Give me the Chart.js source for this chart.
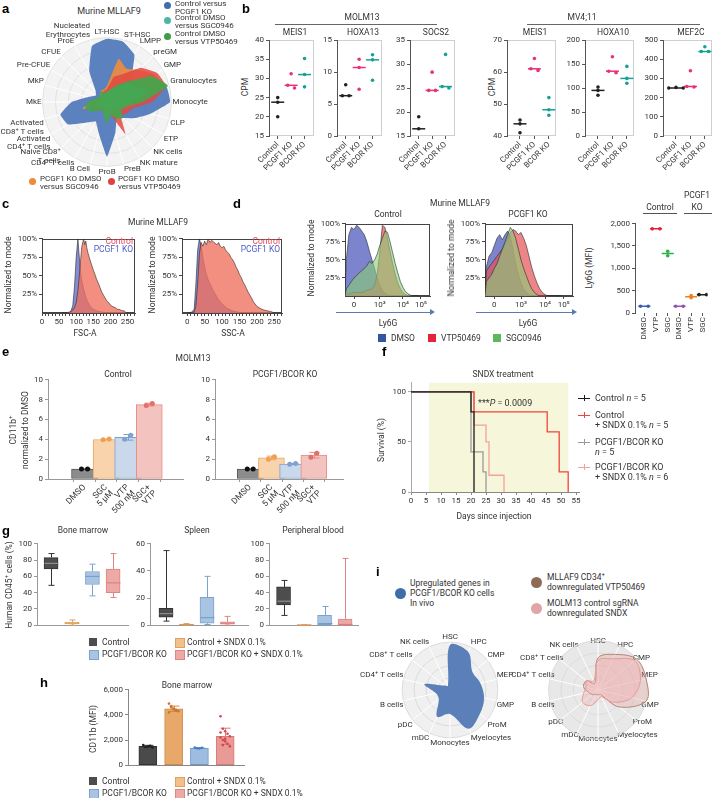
<!DOCTYPE html>
<html>
<head>
<meta charset="utf-8">
<title>Figure</title>
<script src="https://cdn.jsdelivr.net/npm/chart.js@4.4.1/dist/chart.umd.min.js"></script>
<style>
  body { margin: 0; width: 723px; height: 798px; position: relative; overflow: hidden; background: #fff; font-family: Roboto, "DejaVu Sans", sans-serif; color: #333; }
  canvas { position: absolute; }
  .t { position: absolute; font-size: 8.5px; line-height: 10px; white-space: nowrap; }
  .p { position: absolute; font: bold 13px "Liberation Sans", Arial, sans-serif; color: #000; }
  .b { position: absolute; }
  sup { font-size: 6px; line-height: 0; }
</style>
</head>
<body>
<script>
// ---------- data ----------
// a: radar, 24 cell types
const aCats = ['LT-HSC', 'ST-HSC', 'LMPP', 'preGM', 'GMP', 'Granulocytes', 'Monocyte', 'CLP', 'ETP', 'NK cells', 'NK mature', 'PreB', 'ProB', 'B Cell', 'CD4⁺ T cells', ['Naive CD8⁺', 'T cells'], ['Activated', 'CD4⁺ T cells'], ['Activated', 'CD8⁺ T cells'], 'MkE', 'MkP', 'Pre-CFUE', 'CFUE', 'ProE', ['Nucleated', 'Erythrocytes']];
const aBlue = [0.98, 0.97, 0.85, 0.55, 0.55, 0.95, 0.98, 0.7, 0.5, 0.35, 0.3, 0.5, 0.85, 0.5, 0.35, 0.45, 0.7, 0.75, 0.55, 0.3, 0.2, 0.25, 0.55, 0.9];
const aOrange = [0.25, 0.7, 0.6, 0.7, 0.85, 0.92, 0.55, 0.35, 0.25, 0.2, 0.15, 0.15, 0.25, 0.15, 0.12, 0.15, 0.2, 0.4, 0.25, 0.15, 0.12, 0.15, 0.2, 0.2];
const aRed = [0.2, 0.4, 0.5, 0.75, 0.9, 0.95, 0.7, 0.4, 0.35, 0.3, 0.58, 0.2, 0.2, 0.15, 0.15, 0.2, 0.25, 0.3, 0.2, 0.15, 0.12, 0.12, 0.15, 0.18];
const aTeal = [0.15, 0.2, 0.25, 0.4, 0.5, 0.7, 0.4, 0.25, 0.2, 0.15, 0.15, 0.12, 0.2, 0.12, 0.1, 0.12, 0.15, 0.2, 0.15, 0.1, 0.1, 0.1, 0.12, 0.12];
const aGreen = [0.15, 0.2, 0.3, 0.45, 0.8, 0.98, 0.55, 0.3, 0.25, 0.35, 0.3, 0.2, 0.35, 0.2, 0.15, 0.2, 0.3, 0.35, 0.3, 0.2, 0.15, 0.15, 0.2, 0.15];

// b: CPM, groups Control / PCGF1 KO / BCOR KO
const bGroups = ['Control', 'PCGF1 KO', 'BCOR KO'];
const molmMeis1 = [[25, 23.8, 20], [31.2, 28.2, 27.5], [35.2, 31, 27.8]];
const molmHoxa13 = [[8, 6.3, 6.3], [12, 10.7, 7.3], [12.7, 11.9, 8.7]];
const molmSocs2 = [[19, 16.5, 13.5], [28.3, 24.5, 24.5], [32, 25.3, 25]];
const mvMeis1 = [[45, 43.8, 41], [64.2, 61, 60.5], [52, 48.2, 46.5]];
const mvHoxa10 = [[102, 95, 85], [165, 135, 132], [145, 120, 110]];
const mvMef2c = [[250, 253, 250], [340, 258, 255], [465, 440, 440]];

// c: flow histograms (% of mode)
const fscX = [60, 70, 80, 85, 90, 95, 100, 105, 110, 113, 116, 119, 122, 125, 128, 131, 135, 140, 145, 150, 155, 160, 165, 170, 175, 180, 185, 190, 195, 200, 205, 210, 215, 220, 225, 230, 235, 240, 245, 250];
const fscControl = [0, 0.5, 1, 2, 4, 7, 14, 30, 55, 72, 88, 95, 100, 92, 97, 88, 80, 72, 65, 58, 52, 45, 40, 34, 28, 24, 20, 16, 14, 11, 9, 8, 7, 5, 5, 4, 3, 3, 1, 0];
const fscKO = [0, 0, 1, 3, 10, 35, 75, 100, 70, 55, 45, 38, 32, 27, 22, 18, 14, 10, 7, 5, 4, 3, 2, 2, 1, 1, 0, 0, 0, 0, 0, 0, 0, 0, 0, 0, 0, 0, 0, 0];
const sscX = [0, 10, 20, 25, 30, 35, 40, 45, 50, 55, 60, 65, 70, 75, 80, 85, 90, 95, 100, 105, 110, 115, 120, 125, 130, 135, 140, 145, 150, 155, 160, 165, 170, 175, 180, 185, 190, 195, 200, 210, 220, 230, 240, 250];
const sscControl = [0, 0, 1, 10, 40, 80, 95, 90, 97, 92, 100, 95, 98, 96, 94, 92, 95, 90, 88, 90, 85, 82, 80, 75, 72, 68, 62, 58, 52, 48, 42, 38, 33, 28, 24, 20, 15, 12, 9, 6, 4, 3, 2, 0];
const sscKO = [0, 0, 5, 40, 85, 100, 90, 75, 62, 52, 45, 40, 35, 30, 26, 22, 18, 15, 12, 10, 8, 6, 5, 4, 3, 2, 2, 1, 1, 0, 0, 0, 0, 0, 0, 0, 0, 0, 0, 0, 0, 0, 0, 0];

// d: Ly6G histograms (x in display units: 0, 10^3, 10^4, 10^5)
const dX = [-0.35, -0.3, -0.2, -0.1, 0, 0.1, 0.2, 0.3, 0.4, 0.5, 0.6, 0.7, 0.8, 0.9, 1.0, 1.1, 1.2, 1.3, 1.4, 1.5, 1.6, 1.7, 1.8, 1.9, 2.0, 2.1, 2.2, 2.3, 2.4, 2.5];
const dCtrlDmso = [0, 50, 85, 95, 92, 98, 95, 90, 85, 75, 62, 50, 38, 25, 15, 8, 4, 2, 1, 0, 0, 0, 0, 0, 0, 0, 0, 0, 0, 0];
const dCtrlVtp = [0, 2, 3, 4, 5, 5, 5, 5, 6, 8, 9, 10, 15, 30, 60, 98, 95, 80, 62, 45, 30, 18, 10, 5, 2, 0, 0, 0, 0, 0];
const dCtrlSgc = [0, 10, 15, 20, 25, 28, 32, 35, 38, 42, 48, 45, 50, 58, 70, 80, 90, 88, 75, 60, 45, 32, 20, 12, 6, 3, 1, 0, 0, 0];
const dKoDmso = [0, 40, 55, 60, 70, 80, 85, 78, 85, 90, 82, 65, 45, 30, 18, 10, 5, 2, 0, 0, 0, 0, 0, 0, 0, 0, 0, 0, 0, 0];
const dKoVtp = [0, 35, 40, 45, 50, 55, 60, 65, 72, 80, 88, 92, 90, 85, 88, 80, 70, 55, 40, 28, 18, 10, 5, 2, 0, 0, 0, 0, 0, 0];
const dKoSgc = [0, 20, 25, 30, 38, 45, 55, 65, 75, 85, 95, 90, 80, 65, 50, 38, 28, 18, 10, 5, 2, 0, 0, 0, 0, 0, 0, 0, 0, 0];
const dTickPos = [0, 1, 1.9, 2.6];
const dTickLab = ['0', '10³', '10⁴', '10⁵'];
const ly6gCats = ['DMSO', 'VTP', 'SGC', 'DMSO', 'VTP', 'SGC'];
const ly6gVals = [[150, 150], [1880, 1880], [1380, 1280], [150, 150], [390, 340], [410, 410]];

// e: CD11b+ normalized to DMSO
const eCats = [['DMSO'], ['SGC', '5 µM'], ['VTP', '500 nM'], ['SGC+', 'VTP']];
const eCtrl = [[1, 1], [3.95, 4.02], [4.0, 4.4], [7.4, 7.6]];
const eKo = [[1, 1], [2.0, 2.25], [1.48, 1.55], [2.2, 2.6]];

// f: survival (days, %)
const fCtrlDays = [0, 20, 21], fCtrlSurv = [100, 80, 0];
const fCtrlSndxDays = [0, 21, 45.4, 49.4, 52.4], fCtrlSndxSurv = [100, 80, 60, 20, 0];
const fKoDays = [0, 20, 24, 25], fKoSurv = [100, 40, 20, 0];
const fKoSndxDays = [0, 21, 25, 26, 31], fKoSndxSurv = [100, 66.7, 50, 16.7, 0];
const fShade = [6, 52.4];

// g: box stats [min, q1, median, q3, max]
const gBM = [[49, 69, 76, 83, 88], [0, 1.5, 2.5, 3.5, 6.5], [36, 50, 60, 66, 75], [34, 40, 52, 69, 88]];
const gSp = [[3, 6, 8.5, 12.5, 55], [0, 0.2, 0.5, 0.8, 1.2], [0.5, 1.5, 5.5, 20.5, 36], [0, 0.8, 1.5, 2.5, 6.5]];
const gPB = [[12, 25, 29.5, 47, 55], [0, 0, 0.2, 0.4, 0.6], [0, 0.5, 2, 12, 23], [0, 0.3, 1, 7.5, 82]];

// h: CD11b MFI
const hPts = [[1600, 1450, 1500, 1550, 1400], [4900, 4700, 4500, 4400, 4300, 4200, 4600, 4450, 4350], [1400, 1350, 1330, 1380], [3900, 2900, 2700, 2500, 2300, 2200, 2000, 1900, 1700, 1500, 2600, 1600, 2100]];

// i: radars, 14 cell types
const iCats = ['HSC', 'HPC', 'CMP', 'MEP', 'GMP', 'ProM', 'Myelocytes', 'Monocytes', 'mDC', 'pDC', 'B cells', 'CD4⁺ T cells', 'CD8⁺ T cells', 'NK cells'];
const iBlue = [0.94, 0.88, 0.6, 0.65, 0.73, 0.8, 0.9, 0.5, 0.62, 0.3, 0.3, 0.55, 0.15, 0.1];
const iBrown = [0.65, 0.8, 1.0, 1.0, 1.0, 0.55, 0.1, 0.1, 0.1, 0.15, 0.2, 0.3, 0.3, 0.15];
const iPink = [0.6, 0.7, 0.95, 0.88, 0.7, 0.4, 0.15, 0.2, 0.35, 0.4, 0.3, 0.25, 0.3, 0.2];

// ---------- setup ----------
Chart.defaults.font.family = 'Roboto, "DejaVu Sans", sans-serif';
Chart.defaults.font.size = 8;
Chart.defaults.color = '#333';
Chart.defaults.animation = false;
Chart.defaults.responsive = false;
Chart.defaults.maintainAspectRatio = false;
Chart.defaults.devicePixelRatio = 1;
Chart.defaults.events = [];
Chart.defaults.plugins.legend.display = false;
Chart.defaults.plugins.tooltip.enabled = false;

Chart.register({
  id: 'frame',
  beforeDraw(ch, args, o) {
    if (!o.color) return;
    const a = ch.chartArea, c = ch.ctx;
    c.save();
    c.strokeStyle = o.color;
    c.lineWidth = 1;
    c.strokeRect(Math.round(a.left) + 0.5, Math.round(a.top) + 0.5, Math.round(a.right - a.left) - 1, Math.round(a.bottom - a.top) - 1);
    c.restore();
  }
});

function cv(x, y, w, h) {
  const c = document.createElement('canvas');
  c.width = w; c.height = h;
  c.style.left = x + 'px'; c.style.top = y + 'px';
  document.body.appendChild(c);
  return c;
}
function put(cls, x, y, html, css) {
  const d = document.createElement('div');
  d.className = cls;
  d.style.left = x + 'px'; d.style.top = y + 'px';
  if (html) d.innerHTML = html;
  if (css) d.style.cssText += ';' + css;
  document.body.appendChild(d);
  return d;
}
const T = (x, y, s, css) => put('t', x, y, s, css);
const C = (x, y, s, css) => put('t', x, y, s, 'transform:translateX(-50%);text-align:center;' + (css || ''));
const R = (x, y, s, css) => put('t', x, y, s, 'transform:translateX(-100%);text-align:right;' + (css || ''));
const V = (x, y, s, css) => put('t', x, y, s, 'transform:translate(-50%,-50%) rotate(-90deg);text-align:center;' + (css || ''));
const B = (x, y, w, h, css) => put('b', x, y, '', `width:${w}px;height:${h}px;` + (css || ''));
const P = (x, y, s) => put('p', x, y, s);

function mean(a) { return a.reduce((p, q) => p + q, 0) / a.length; }
function sd(a) { const m = mean(a); return Math.sqrt(a.reduce((p, q) => p + (q - m) ** 2, 0) / (a.length - 1)); }
function median(a) { const s = [...a].sort((p, q) => p - q); return s[Math.floor(s.length / 2)]; }
function swarm(vals, g, thr, dx) {
  return vals.map((v, j) => {
    const near = vals.map((w, k) => k).filter(k => Math.abs(vals[k] - v) < thr);
    return {x: g + (near.indexOf(j) - (near.length - 1) / 2) * dx, y: v};
  });
}

function yLin(min, max, step, w, col, fmt) {
  const ax = {type: 'linear', min, max, afterFit: s => { s.width = w; },
    ticks: {stepSize: step, padding: 2, color: '#333'},
    grid: {drawOnChartArea: false, tickLength: 3, color: col || '#555'},
    border: {color: col || '#555'}};
  if (fmt) ax.ticks.callback = fmt;
  return ax;
}
function xLin(min, max, vals, fmt, h, rot, col, border) {
  return {type: 'linear', min, max, afterFit: s => { s.height = h; },
    afterBuildTicks: s => { s.ticks = vals.map(v => ({value: v})); },
    ticks: {callback: fmt, autoSkip: false, minRotation: rot, maxRotation: rot, padding: 1, color: '#333'},
    grid: {drawOnChartArea: false, tickLength: 3, color: col},
    border: {color: col, display: border !== false}};
}
function only(ax, vals) { ax.afterBuildTicks = s => { s.ticks = vals.map(v => ({value: v})); }; return ax; }

// ---------- a ----------
P(2, 1, 'a');
C(109, 6, 'Murine MLLAF9', 'font-size:9px');
new Chart(cv(-2, 19, 222, 160), {
  type: 'radar',
  data: {labels: aCats, datasets: [
    {data: aGreen, backgroundColor: 'rgba(68,166,78,0.93)'},
    {data: aTeal, backgroundColor: 'rgba(80,182,165,0.9)'},
    {data: aRed, backgroundColor: 'rgba(226,72,66,0.85)'},
    {data: aOrange, backgroundColor: 'rgba(242,140,60,0.88)'},
    {data: aBlue, backgroundColor: 'rgba(82,122,186,0.95)'}
  ].map(d => Object.assign(d, {fill: true, borderWidth: 0, pointRadius: 0, tension: 0.1}))},
  options: {layout: {padding: 0}, scales: {r: {min: 0, max: 1,
    ticks: {display: false, stepSize: 0.2}, grid: {circular: true, color: '#e2e2e2'},
    angleLines: {color: '#fff'}, backgroundColor: '#f3f3f3',
    pointLabels: {padding: 1, color: '#333', font: {size: 8, lineHeight: 1.05}}}}}
});
const legA = [[164, 2, '#3f6db0', 'Control versus<br>PCGF1 KO', 0], [164, 17, '#4cb5a4', 'Control DMSO<br>versus SGC0946', 14], [164, 33, '#3c9e48', 'Control DMSO<br>versus VTP50469', 30]];
legA.forEach(([x, y, c, s, ty]) => { B(x, y, 7, 7, `border-radius:50%;background:${c}`); T(x + 11, ty, s, 'font-size:8px;line-height:7.5px'); });
B(29, 178, 7, 7, 'border-radius:50%;background:#f08a35');
T(40, 175, 'PCGF1 KO DMSO<br>versus SGC0946', 'font-size:8px;line-height:7.5px');
B(108, 178, 7, 7, 'border-radius:50%;background:#e0433f');
T(118, 175, 'PCGF1 KO DMSO<br>versus VTP50469', 'font-size:8px;line-height:7.5px');

// ---------- b ----------
P(242, 1, 'b');
const bCols = ['#222', '#e8317b', '#16a096'];
C(362, 12, 'MOLM13');
B(275, 24, 162, 0, 'border-top:1px solid #666');
C(582, 12, 'MV4;11');
B(527, 24, 173, 0, 'border-top:1px solid #666');
V(245, 87, 'CPM');
V(492, 87, 'CPM');
const bPanels = [
  [molmMeis1, 'MEIS1', 269, 52, 15, 40, 5],
  [molmHoxa13, 'HOXA13', 337, 52, 0, 15, 5],
  [molmSocs2, 'SOCS2', 410, 52, 15, 35, 5],
  [mvMeis1, 'MEIS1', 507, 56, 40, 70, 10],
  [mvHoxa10, 'HOXA10', 585, 56, 0, 200, 50],
  [mvMef2c, 'MEF2C', 663, 56, 0, 500, 100]
];
bPanels.forEach(([d, gene, ax, pw, lo, hi, st]) => {
  const unit = pw === 52 ? 15.5 : 16.5;
  const x0 = pw === 52 ? 0.35 : 0.1;
  C(ax + pw / 2, 27, gene);
  const ds = [];
  d.forEach((vals, i) => ds.push({data: swarm(vals, i + 1, (hi - lo) * 0.03, 0.5), backgroundColor: bCols[i], pointRadius: 1.8, borderWidth: 0}));
  d.forEach((vals, i) => ds.push({data: [{x: i + 1, y: median(vals)}], pointStyle: 'line', pointRadius: 6.5, borderColor: bCols[i], borderWidth: 1.5}));
  new Chart(cv(ax - 26, 32, 26 + pw + 1, 138), {
    type: 'scatter',
    data: {datasets: ds},
    options: {
      layout: {padding: {top: 6, right: 1}},
      plugins: {frame: {color: '#cfcfcf'}},
      scales: {
        x: xLin(x0, x0 + pw / unit, [1, 2, 3], v => bGroups[v - 1], 34, 45, '#555', false),
        y: yLin(lo, hi, st, 26)
      }
    }
  });
});

// ---------- c ----------
P(2, 196, 'c');
function hist(x, y, w, h, xs, series, xmin, xmax, xt, xfmt, xh) {
  return new Chart(cv(x, y, w, h), {
    type: 'line',
    data: {datasets: series.map(s => ({data: xs.map((v, i) => ({x: v, y: s[0][i]})), backgroundColor: s[1],
      borderColor: 'rgba(40,40,40,0.85)', borderWidth: 0.7, fill: 'origin', pointRadius: 0, tension: 0}))},
    options: {
      layout: {padding: {top: 6, right: 2}},
      plugins: {frame: {color: '#444'}},
      scales: {
        x: xLin(xmin, xmax, xt, xfmt, xh, 0, '#444'),
        y: only(yLin(0, 100, 25, 32, '#444', v => v + '%'), [25, 50, 75, 100])
      }
    }
  });
}
const cTicks = [];
for (let v = 0; v <= 270; v += 10) cTicks.push(v);
const cFmt = v => (v % 50 ? '' : v);
const cRed = 'rgba(240,112,92,0.78)', cBlue = 'rgba(112,120,205,0.85)';
C(158, 217, 'Murine MLLAF9');
hist(10, 232, 127, 95, fscX, [[fscControl, cRed], [fscKO, cBlue]], 0, 272, cTicks, cFmt, 14);
hist(150, 232, 134, 95, sscX, [[sscControl, cRed], [sscKO, cBlue]], -15, 272, cTicks, cFmt, 14);
V(8, 275, 'Normalized to mode');
V(152, 275, 'Normalized to mode');
C(85, 328, 'FSC-A');
C(233, 328, 'SSC-A');
[133, 280].forEach(x => { R(x, 236, 'Control', 'color:#ec4a55'); R(x, 244, 'PCGF1 KO', 'color:#4e5fc4'); });

// ---------- d ----------
P(233, 196, 'd');
C(460, 198, 'Murine MLLAF9');
const dBlue = 'rgba(95,105,195,0.82)', dRed = 'rgba(228,80,85,0.7)', dGreen = 'rgba(140,205,120,0.62)';
const dFmt = v => dTickLab[dTickPos.indexOf(v)];
hist(313, 217, 119, 95, dX, [[dCtrlSgc, dGreen], [dCtrlVtp, dRed], [dCtrlDmso, dBlue]], -0.35, 2.95, dTickPos, dFmt, 16);
hist(453, 217, 122, 95, dX, [[dKoSgc, dGreen], [dKoVtp, dRed], [dKoDmso, dBlue]], -0.35, 2.95, dTickPos, dFmt, 16);
C(388, 209, 'Control');
C(528, 209, 'PCGF1 KO');
V(311, 258, 'Normalized to mode');
V(451, 258, 'Normalized to mode');
[[336, 94], [476, 96]].forEach(([x, w]) => {
  B(x, 312, w, 0, 'border-top:1px solid #5a7bb0');
  B(x + w, 309, 0, 0, 'border-left:5px solid #5a7bb0;border-top:3.5px solid transparent;border-bottom:3.5px solid transparent');
});
C(388, 318, 'Ly6G');
C(528, 318, 'Ly6G');
B(378, 334, 8, 8, 'background:#3454a4'); T(391, 333, 'DMSO');
B(428, 334, 8, 8, 'background:#e3243b'); T(441, 333, 'VTP50469');
B(493, 334, 8, 8, 'background:#5cb85c'); T(506, 333, 'SGC0946');

const ly6gCols = ['#3b5fb0', '#e3243b', '#2bb04a', '#8e55b0', '#f07f1e', '#222'];
const lyDs = [];
ly6gVals.forEach((vals, i) => lyDs.push({data: swarm(vals, i + 1, 30, 0.65), backgroundColor: ly6gCols[i], pointRadius: 1.8, borderWidth: 0}));
ly6gVals.forEach((vals, i) => lyDs.push({data: [{x: i + 1, y: mean(vals)}], pointStyle: 'line', pointRadius: 6, borderColor: ly6gCols[i], borderWidth: 1.5}));
new Chart(cv(599, 216, 116, 135), {
  type: 'scatter',
  data: {datasets: lyDs},
  options: {
    layout: {padding: {top: 6, right: 3}},
    scales: {
      x: xLin(0.2, 6.4, [1, 2, 3, 4, 5, 6], v => ly6gCats[v - 1], 38, 90, '#555', false),
      y: yLin(0, 2000, 500, 36)
    }
  }
});
V(589, 268, 'Ly6G (MFI)');
C(660, 202, 'Control');
B(643, 213, 34, 0, 'border-top:1px solid #555');
C(697, 190, 'PCGF1');
C(697, 202, 'KO');
B(684, 213, 28, 0, 'border-top:1px solid #555');

// ---------- e ----------
P(2, 344, 'e');
function barChart(el, groups, fills, lines, pts, yax, xax, thick, ptR, jit) {
  const dots = {type: 'scatter', data: [], backgroundColor: [], pointRadius: ptR, borderWidth: 0};
  groups.forEach((g, i) => g.forEach((v, j) => { dots.data.push({x: i + 1 + jit(j, g.length), y: v}); dots.backgroundColor.push(pts[i]); }));
  const bars = {type: 'bar', data: groups.map((g, i) => ({x: i + 1, y: mean(g)})), backgroundColor: fills, borderColor: lines,
    borderWidth: 1, barThickness: thick, borderSkipped: false};
  return new Chart(el, {
    type: 'bar',
    data: {datasets: [dots, bars]},
    options: {layout: {padding: {top: 6, right: 2}}, scales: {x: xax, y: yax}},
    plugins: [{
      id: 'err',
      afterDatasetDraw(ch, args) {
        if (args.index !== 1) return;
        const {x, y} = ch.scales, c = ch.ctx;
        c.save(); c.lineWidth = 1;
        groups.forEach((g, i) => {
          const m = mean(g), s = sd(g), px = Math.round(x.getPixelForValue(i + 1)) + 0.5;
          const t = y.getPixelForValue(m + s), b = y.getPixelForValue(m - s);
          c.strokeStyle = lines[i];
          c.beginPath();
          c.moveTo(px, t); c.lineTo(px, b);
          c.moveTo(px - 5, t); c.lineTo(px + 5, t);
          c.moveTo(px - 5, b); c.lineTo(px + 5, b);
          c.stroke();
        });
        c.restore();
      }
    }]
  });
}
const eFill = ['#8c8c8c', '#f8d3ab', '#c9d8ea', '#f3c3bf'];
const eLine = ['#555', '#e8a867', '#7f9fcb', '#e58d88'];
const ePts = ['#111', '#f0a050', '#7fa3d0', '#e2706b'];
const eJit = (j, n) => (j - (n - 1) / 2) * 0.28;
function eX(min, max) {
  const ax = xLin(min, max, [1, 2, 3, 4], v => eCats[v - 1], 50, 45, '#999');
  ax.ticks.font = {size: 8.5, lineHeight: 1.0};
  return ax;
}
C(193, 353, 'MOLM13');
C(118, 369, 'Control');
C(285, 369, 'PCGF1/BCOR KO');
barChart(cv(26, 373, 161, 156), eCtrl, eFill, eLine, ePts, yLin(0, 10, 2, 22, '#999'), eX(0.09, 4.78), 26, 2.5, eJit);
barChart(cv(193, 373, 154, 156), eKo, eFill, eLine, ePts, yLin(0, 10, 2, 22, '#999'), eX(0.094, 4.62), 26, 2.5, eJit);
V(13, 430, 'CD11b<sup>+</sup>');
V(25, 430, 'normalized to DMSO');

// ---------- f ----------
P(382, 344, 'f');
C(503, 369, 'SNDX treatment');
const fSeries = [[fCtrlDays, fCtrlSurv, '#1a1a1a'], [fKoDays, fKoSurv, '#9a9a9a'], [fCtrlSndxDays, fCtrlSndxSurv, '#f0443a'], [fKoSndxDays, fKoSndxSurv, '#f4a09c']];
const fTicks = [0, 5, 10, 15, 20, 25, 30, 35, 40, 45, 50, 55];
new Chart(cv(389, 376, 194, 132), {
  type: 'line',
  data: {datasets: fSeries.map(([d, s, c]) => ({data: d.map((v, i) => ({x: v, y: s[i]})), borderColor: c, borderWidth: 1.3, pointRadius: 0, stepped: true, fill: false}))},
  options: {
    layout: {padding: {top: 6, right: 4}},
    scales: {x: xLin(0, 56, fTicks, v => v, 16, 0, '#888'), y: only(yLin(0, 109, 50, 22, '#aaa'), [0, 50, 100])}
  },
  plugins: [{
    id: 'shade',
    beforeDatasetsDraw(ch) {
      const {x, y} = ch.scales, c = ch.ctx;
      const l = x.getPixelForValue(fShade[0]), r = x.getPixelForValue(fShade[1]);
      c.save(); c.fillStyle = '#f6f6da';
      c.fillRect(l, y.getPixelForValue(y.max), r - l, y.getPixelForValue(0) - y.getPixelForValue(y.max));
      c.restore();
    }
  }]
});
T(478, 398, '***<i>P</i> = 0.0009', 'font-size:9px');
V(381, 440, 'Survival (%)');
C(494, 511, 'Days since injection');
const fLeg = [[398, '#1a1a1a', 'Control <i>n</i> = 5', 393], [415, '#f0443a', 'Control<br>+ SNDX 0.1% <i>n</i> = 5', 410], [442, '#9a9a9a', 'PCGF1/BCOR KO<br><i>n</i> = 5', 437], [467, '#f4a09c', 'PCGF1/BCOR KO<br>+ SNDX 0.1% <i>n</i> = 6', 462]];
fLeg.forEach(([y, c, s, ty]) => {
  B(578, y, 12, 0, `border-top:1.3px solid ${c}`);
  B(584, y - 3, 0, 6, `border-left:1px solid ${c}`);
  T(595, ty, s, 'font-size:9px;line-height:10px');
});

// ---------- g ----------
P(2, 523, 'g');
const gFill = ['#4d4d4d', '#f2c08d', '#a8c4e2', '#eda9a6'];
const gLine = ['#333', '#e0a060', '#7aa3cf', '#e08580'];
const gMed = ['#9a9a9a', '#d9964f', '#6f98c8', '#d97a76'];
function boxChart(el, stats, ymax, ystep, xmin, xmax) {
  return new Chart(el, {
    type: 'bar',
    data: {datasets: [{data: stats.map((s, i) => ({x: i + 1, y: [s[1], s[3]]})), backgroundColor: gFill, borderColor: gLine,
      borderWidth: 1, barThickness: 14, borderSkipped: false}]},
    options: {layout: {padding: {top: 6, right: 2}},
      scales: {x: xLin(xmin, xmax, [], v => '', 3, 0, '#999'), y: yLin(0, ymax, ystep, 20, '#999')}},
    plugins: [{
      id: 'whisk',
      afterDatasetsDraw(ch) {
        const {x, y} = ch.scales, c = ch.ctx;
        c.save(); c.lineWidth = 1;
        stats.forEach((s, i) => {
          const px = Math.round(x.getPixelForValue(i + 1)) + 0.5, Y = v => y.getPixelForValue(v);
          c.strokeStyle = gLine[i];
          c.beginPath();
          c.moveTo(px, Y(s[0])); c.lineTo(px, Y(s[1]));
          c.moveTo(px, Y(s[3])); c.lineTo(px, Y(s[4]));
          c.moveTo(px - 3, Y(s[0])); c.lineTo(px + 3, Y(s[0]));
          c.moveTo(px - 3, Y(s[4])); c.lineTo(px + 3, Y(s[4]));
          c.stroke();
          c.strokeStyle = gMed[i];
          c.beginPath(); c.moveTo(px - 7, Y(s[2])); c.lineTo(px + 7, Y(s[2])); c.stroke();
        });
        c.restore();
      }
    }]
  });
}
C(83, 525, 'Bone marrow');
C(197, 525, 'Spleen');
C(313, 525, 'Peripheral blood');
boxChart(cv(17, 537, 113, 95), gBM, 100, 20, 0.32, 4.72);
boxChart(cv(130, 537, 120, 95), gSp, 60, 20, 0.22, 5.0);
boxChart(cv(249, 537, 111, 95), gPB, 100, 20, 0.29, 4.63);
V(9, 585, 'Human CD45<sup>+</sup> cells (%)');
function legG(y) {
  B(89, y + 1, 8, 8, 'background:#4d4d4d'); T(102, y, 'Control');
  B(175, y + 1, 8, 8, 'background:#f2c08d;border:0.5px solid #e0a060'); T(187, y, 'Control + SNDX 0.1%');
  B(89, y + 13, 8, 8, 'background:#a8c4e2;border:0.5px solid #7aa3cf'); T(102, y + 12, 'PCGF1/BCOR KO');
  B(175, y + 13, 8, 8, 'background:#eda9a6;border:0.5px solid #e08580'); T(187, y + 12, 'PCGF1/BCOR KO + SNDX 0.1%');
}
legG(637);

// ---------- h ----------
P(40, 675, 'h');
C(187, 680, 'Bone marrow');
barChart(cv(100, 683, 148, 89), hPts, ['#4a4a4a', '#e8a86a', '#9dbcdf', '#e89a96'], ['#333', '#d08a45', '#6f98c8', '#d97a76'],
  ['#222', '#c9782e', '#4a7bbf', '#d9434f'],
  yLin(0, 6000, 2000, 28, '#888'), xLin(0.23, 4.73, [], v => '', 3, 0, '#888'), 18, 1.3, (j, n) => ((j % 5) - 2) * 0.09);
V(93, 729, 'CD11b (MFI)');
legG(776);

// ---------- i ----------
P(376, 564, 'i');
B(395, 588, 11, 11, 'border-radius:50%;background:#3e6ea8');
T(410, 578, 'Upregulated genes in<br>PCGF1/BCOR KO cells<br>In vivo');
B(531, 577, 11, 11, 'border-radius:50%;background:#8f6a55');
T(547, 572, 'MLLAF9 CD34<sup>+</sup><br>downregulated VTP50469');
B(531, 603, 11, 11, 'border-radius:50%;background:#e0a5a5');
T(547, 598, 'MOLM13 control sgRNA<br>downregulated SNDX');
function radarI(x, y, w, h, sets, bg, pad) {
  return new Chart(cv(x, y, w, h), {
    type: 'radar',
    data: {labels: iCats, datasets: sets.map(s => Object.assign({fill: true, pointRadius: 0, tension: 0.35}, s))},
    options: {layout: {padding: 0}, scales: {r: {min: 0, max: 1,
      ticks: {display: false, stepSize: 0.25}, grid: {circular: true, color: '#dcdcdc'},
      angleLines: {color: '#fff'}, backgroundColor: bg,
      pointLabels: {padding: pad, color: '#333', font: {size: 8}}}}}
  });
}
radarI(354, 630, 180, 120, [{data: iBlue, backgroundColor: '#5a7fb9', borderWidth: 0}], '#f0f0f0', 0);
radarI(508, 636, 180, 108, [
  {data: iPink, backgroundColor: 'rgba(240,170,170,0.35)', borderColor: '#e89a98', borderWidth: 1},
  {data: iBrown, backgroundColor: 'rgba(225,165,160,0.35)', borderColor: '#b88478', borderWidth: 1}
], '#e8e8e8', -5);
</script>
</body>
</html>
